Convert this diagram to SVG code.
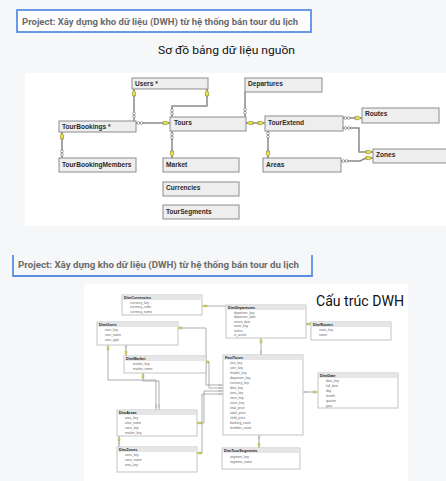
<svg xmlns="http://www.w3.org/2000/svg" width="446" height="481" viewBox="0 0 446 481">
<style>
.hdr{font-family:Roboto,"Noto Sans","Liberation Sans",sans-serif;font-weight:bold;font-size:8.4px;fill:#6b6b6b}
.ttl{font-family:Roboto,"Noto Sans","Liberation Sans",sans-serif;fill:#111}
.tb{fill:#eeeeee;stroke:#8c8c8c;stroke-width:1}
.tt{font-family:"Liberation Sans",Arial,sans-serif;font-weight:bold;font-size:6.6px;fill:#2a2a2a}
.cn{fill:none;stroke:#8a8a8a;stroke-width:1.5}
.bcn{fill:none;stroke:#9a9a9a;stroke-width:0.8}
.bb{fill:#fff;stroke:#b5b5b5;stroke-width:0.8}
.bh{fill:#e6e6e6}
.bt{font-family:"Liberation Sans",Arial,sans-serif;font-weight:bold;font-size:3.8px;fill:#222}
.br{font-family:"Liberation Sans",Arial,sans-serif;font-size:3.2px;fill:#666}
.sep{stroke:#e2e2e2;stroke-width:0.4}
</style>
<defs>
<g id="key"><polygon points="-3,-1.6 0.8,-1.6 3,0 0.8,1.6 -3,1.6" fill="#e6e04a" stroke="#6f6d1e" stroke-width="0.5"/></g>
<g id="inf"><circle cx="-1.6" cy="0" r="1.4" fill="#fff" stroke="#555" stroke-width="0.5"/><circle cx="1.6" cy="0" r="1.4" fill="#fff" stroke="#555" stroke-width="0.5"/></g>
</defs>
<rect width="446" height="481" fill="#f6f7f8"/>
<rect x="25" y="73" width="421" height="153" fill="#ffffff"/>
<rect x="84" y="284" width="324" height="197" fill="#ffffff"/>

<g id="header1">
<rect x="17" y="10" width="294" height="22" fill="#ffffff" stroke="#5b8fe2" stroke-width="1.8"/>
<text class="hdr" x="22" y="24.5" textLength="276" lengthAdjust="spacingAndGlyphs">Project: Xây dựng kho dữ liệu (DWH) từ hệ thống bán tour du lịch</text>
</g>
<text class="ttl" x="158" y="54" font-size="11.5" textLength="137" lengthAdjust="spacingAndGlyphs">Sơ đồ bảng dữ liệu nguồn</text>

<g id="connectors-top">
<path class="cn" d="M134,89 V121"/>
<path class="cn" d="M207,89 V106 H172 V117"/>
<path class="cn" d="M136,123 H170"/>
<path class="cn" d="M62,132 V158"/>
<path class="cn" d="M172,131 V158"/>
<path class="cn" d="M245,92 V117"/>
<path class="cn" d="M246,123 H265"/>
<path class="cn" d="M343,118 H362"/>
<path class="cn" d="M343,128 H359 V152 H373"/>
<path class="cn" d="M268,131 V158"/>
<path class="cn" d="M341,161 H360 L366,158 H373"/>
<use href="#key" transform="translate(134,93) rotate(-90)"/>
<use href="#inf" transform="translate(134,115) rotate(90)"/>
<use href="#key" transform="translate(207,93) rotate(-90)"/>
<use href="#inf" transform="translate(172,112) rotate(90)"/>
<use href="#inf" transform="translate(140,123)"/>
<use href="#key" transform="translate(166,123)"/>
<use href="#key" transform="translate(62,136) rotate(-90)"/>
<use href="#inf" transform="translate(62,153) rotate(90)"/>
<use href="#inf" transform="translate(172,136) rotate(90)"/>
<use href="#key" transform="translate(172,154) rotate(90)"/>
<use href="#inf" transform="translate(245,111) rotate(90)"/>
<use href="#key" transform="translate(250,123) rotate(180)"/>
<use href="#key" transform="translate(261,123)"/>
<use href="#inf" transform="translate(347,118)"/>
<use href="#key" transform="translate(358,118)"/>
<use href="#inf" transform="translate(347,128)"/>
<use href="#key" transform="translate(369,152)"/>
<use href="#inf" transform="translate(268,135) rotate(90)"/>
<use href="#key" transform="translate(268,154) rotate(90)"/>
<use href="#inf" transform="translate(345,161)"/>
<use href="#key" transform="translate(369,158)"/>
</g>

<g id="Users"><rect class="tb" x="132" y="78" width="76" height="11"/><text class="tt" x="135" y="86">Users *</text></g>
<g id="TourBookings"><rect class="tb" x="59" y="121" width="77" height="11"/><text class="tt" x="62" y="129">TourBookings *</text></g>
<g id="Tours"><rect class="tb" x="170" y="117" width="76" height="14"/><text class="tt" x="174" y="124.5">Tours</text></g>
<g id="TourBookingMembers"><rect class="tb" x="59" y="158" width="77" height="14"/><text class="tt" x="62" y="167">TourBookingMembers</text></g>
<g id="Market"><rect class="tb" x="163" y="158" width="76" height="14"/><text class="tt" x="166" y="167">Market</text></g>
<g id="Currencies"><rect class="tb" x="163" y="182" width="76" height="14"/><text class="tt" x="166" y="190">Currencies</text></g>
<g id="TourSegments"><rect class="tb" x="163" y="205" width="76" height="14"/><text class="tt" x="166" y="213.5">TourSegments</text></g>
<g id="Departures"><rect class="tb" x="245" y="78" width="77" height="14"/><text class="tt" x="248" y="86">Departures</text></g>
<g id="TourExtend"><rect class="tb" x="265" y="116" width="78" height="15"/><text class="tt" x="268" y="124.5">TourExtend</text></g>
<g id="Routes"><rect class="tb" x="362" y="108" width="77" height="15"/><text class="tt" x="365" y="116">Routes</text></g>
<g id="Zones"><rect class="tb" x="373" y="149" width="76" height="14"/><text class="tt" x="376" y="157">Zones</text></g>
<g id="Areas"><rect class="tb" x="263" y="158" width="78" height="14"/><text class="tt" x="266" y="167">Areas</text></g>

<g id="header2">
<path d="M13,255 V276 H312 V255" fill="none" stroke="#5b8fe2" stroke-width="1.8"/>
<text class="hdr" x="18" y="268" textLength="281" lengthAdjust="spacingAndGlyphs">Project: Xây dựng kho dữ liệu (DWH) từ hệ thống bán tour du lịch</text>
</g>
<text class="ttl" x="316" y="305.5" font-size="14" textLength="88" lengthAdjust="spacingAndGlyphs">Cấu trúc DWH</text>

<g id="connectors-dwh">
<path class="bcn" d="M202,306 H226"/>
<path class="bcn" d="M306,324 H311"/>
<path class="bcn" d="M261,338 V355"/>
<path class="bcn" d="M126,345 V356"/>
<path class="bcn" d="M178,328 H206 V385 H223"/>
<path class="bcn" d="M206,362 H209 V388 H223"/>
<path class="bcn" d="M108,345 V380 H156 V410"/>
<path class="bcn" d="M143,373 V381 H159 V410"/>
<path class="bcn" d="M197,423 H204 V391 H223"/>
<path class="bcn" d="M197,453 H202 V394 H223"/>
<path class="bcn" d="M119,436 V447"/>
<path class="bcn" d="M303,392 H318"/>
<path class="bcn" d="M259,435 V448"/>
<g transform="scale(1)">
<use href="#key" transform="translate(205,306) rotate(180) scale(0.6)"/>
<use href="#key" transform="translate(309,324) scale(0.6)"/>
<use href="#key" transform="translate(261,341) rotate(-90) scale(0.6)"/>
<use href="#inf" transform="translate(261,352) rotate(90) scale(0.5)"/>
<use href="#inf" transform="translate(126,347.5) rotate(90) scale(0.5)"/>
<use href="#key" transform="translate(126,353) rotate(90) scale(0.6)"/>
<use href="#key" transform="translate(180,328) rotate(180) scale(0.6)"/>
<use href="#key" transform="translate(207,362) rotate(180) scale(0.6)"/>
<use href="#inf" transform="translate(220,385) scale(0.5)"/>
<use href="#inf" transform="translate(220,388) scale(0.5)"/>
<use href="#inf" transform="translate(220,391) scale(0.5)"/>
<use href="#inf" transform="translate(220,394) scale(0.5)"/>
<use href="#key" transform="translate(108,348) rotate(-90) scale(0.6)"/>
<use href="#key" transform="translate(143,376) rotate(-90) scale(0.6)"/>
<use href="#inf" transform="translate(156,406) rotate(90) scale(0.5)"/>
<use href="#inf" transform="translate(159,406) rotate(90) scale(0.5)"/>
<use href="#key" transform="translate(199.5,423) rotate(180) scale(0.6)"/>
<use href="#key" transform="translate(199.5,453) rotate(180) scale(0.6)"/>
<use href="#key" transform="translate(119,439) rotate(-90) scale(0.6)"/>
<use href="#inf" transform="translate(119,443.5) rotate(90) scale(0.5)"/>
<use href="#inf" transform="translate(306,392) scale(0.5)"/>
<use href="#key" transform="translate(315,392) scale(0.6)"/>
<use href="#inf" transform="translate(259,438) rotate(90) scale(0.5)"/>
<use href="#key" transform="translate(259,445) rotate(90) scale(0.6)"/>
</g>
</g>

<g id="DimCurrencies"><rect class="bb" x="122" y="295" width="80" height="20"/><rect class="bh" x="122.4" y="295.4" width="79.2" height="4.6"/><text class="bt" x="124" y="299">DimCurrencies</text><text class="br" x="130" y="303.5">currency_key</text><text class="br" x="130" y="308.3">currency_code</text><text class="br" x="130" y="313">currency_name</text></g>

<g id="DimDepartures"><rect class="bb" x="226" y="305" width="80" height="33"/><rect class="bh" x="226.4" y="305.4" width="79.2" height="4.6"/><text class="bt" x="228" y="309">DimDepartures</text><text class="br" x="234" y="313.5">departure_key</text><text class="br" x="234" y="318">departure_date</text><text class="br" x="234" y="322.5">return_date</text><text class="br" x="234" y="327">route_key</text><text class="br" x="234" y="331.5">status</text><text class="br" x="234" y="336">is_active</text></g>

<g id="DimUsers"><rect class="bb" x="97" y="322" width="81" height="23"/><rect class="bh" x="97.4" y="322.4" width="80.2" height="4.6"/><text class="bt" x="99" y="326">DimUsers</text><text class="br" x="105" y="331">user_key</text><text class="br" x="105" y="336">user_name</text><text class="br" x="105" y="341">user_type</text></g>

<g id="DimMarket"><rect class="bb" x="124" y="356" width="82" height="17"/><rect class="bh" x="124.4" y="356.4" width="81.2" height="4.6"/><text class="bt" x="126" y="360">DimMarket</text><text class="br" x="133" y="364.8">market_key</text><text class="br" x="133" y="369.5">market_name</text></g>

<g id="DimRoutes"><rect class="bb" x="311" y="322" width="80" height="18"/><rect class="bh" x="311.4" y="322.4" width="79.2" height="4.6"/><text class="bt" x="313" y="326">DimRoutes</text><text class="br" x="319" y="331">route_key</text><text class="br" x="319" y="336">name</text></g>

<g id="FactTours"><rect class="bb" x="223" y="355" width="80" height="80"/><rect class="bh" x="223.4" y="355.4" width="79.2" height="4.6"/><text class="bt" x="225" y="359">FactTours</text>
<text class="br" x="230" y="364">tour_key</text><text class="br" x="230" y="369">user_key</text><text class="br" x="230" y="374">market_key</text><text class="br" x="230" y="379">departure_key</text><text class="br" x="230" y="384">currency_key</text><text class="br" x="230" y="389">date_key</text><text class="br" x="230" y="394">area_key</text><text class="br" x="230" y="399">zone_key</text><text class="br" x="230" y="404">route_key</text><text class="br" x="230" y="409">total_price</text><text class="br" x="230" y="414">adult_price</text><text class="br" x="230" y="419">child_price</text><text class="br" x="230" y="424">booking_count</text><text class="br" x="230" y="429">member_count</text></g>

<g id="DimDate"><rect class="bb" x="318" y="373" width="80" height="35"/><rect class="bh" x="318.4" y="373.4" width="79.2" height="4.6"/><text class="bt" x="320" y="377">DimDate</text><text class="br" x="326" y="382">date_key</text><text class="br" x="326" y="387">full_date</text><text class="br" x="326" y="392">day</text><text class="br" x="326" y="397">month</text><text class="br" x="326" y="402">quarter</text><text class="br" x="326" y="406.5">year</text></g>

<g id="DimTourSegments"><rect class="bb" x="222" y="448" width="78" height="21"/><rect class="bh" x="222.4" y="448.4" width="77.2" height="4.6"/><text class="bt" x="224" y="452">DimTourSegments</text><text class="br" x="230" y="457.5">segment_key</text><text class="br" x="230" y="462.5">segment_name</text></g>

<g id="DimAreas"><rect class="bb" x="117" y="410" width="80" height="26"/><rect class="bh" x="117.4" y="410.4" width="79.2" height="4.6"/><text class="bt" x="119" y="414">DimAreas</text><text class="br" x="125" y="419">area_key</text><text class="br" x="125" y="424">area_name</text><text class="br" x="125" y="429">zone_key</text><text class="br" x="125" y="434">market_key</text></g>

<g id="DimZones"><rect class="bb" x="117" y="447" width="80" height="25"/><rect class="bh" x="117.4" y="447.4" width="79.2" height="4.6"/><text class="bt" x="119" y="451">DimZones</text><text class="br" x="125" y="456">zone_key</text><text class="br" x="125" y="461">zone_name</text><text class="br" x="125" y="466">area_key</text></g>
</svg>
